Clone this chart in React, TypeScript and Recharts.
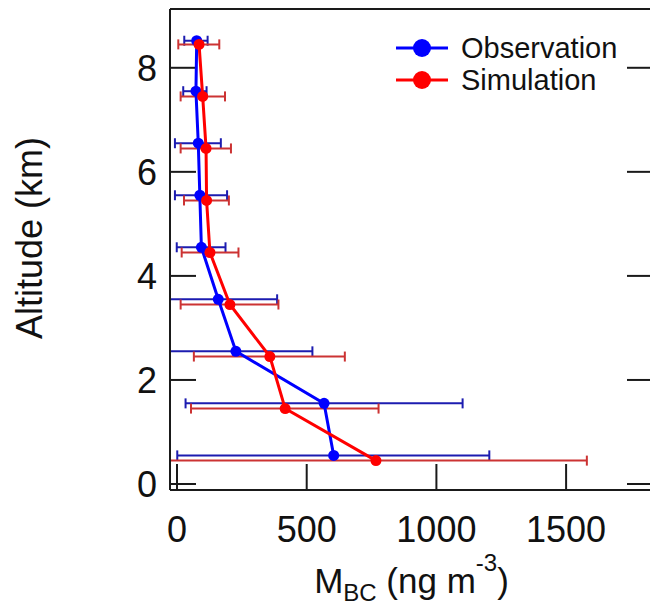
import { ScatterChart, Scatter, XAxis, YAxis, ErrorBar, Legend } from "recharts";

// Altitude bins (km) — simulation slightly offset below observation
const altitudeObs = [0.55, 1.55, 2.55, 3.55, 4.55, 5.55, 6.55, 7.55, 8.52];
const altitudeSim = [0.45, 1.45, 2.45, 3.45, 4.45, 5.45, 6.45, 7.45, 8.45];

// M_BC (ng m-3): mean and error bar ends (-27 = runs off the left axis)
const obsMean = [604, 567, 227, 159, 94, 88, 82, 73, 76];
const obsLow = [1, 33, -27, -27, -1, -8, -8, 24, 28];
const obsHigh = [1204, 1101, 522, 386, 187, 193, 169, 114, 118];

const simMean = [767, 417, 358, 204, 127, 114, 112, 99, 85];
const simLow = [-27, 54, 65, 14, 18, 27, 14, 14, 5];
const simHigh = [1580, 777, 647, 391, 237, 200, 208, 185, 163];

const xTicks = [0, 500, 1000, 1500];
const yTicks = [0, 2, 4, 6, 8];

const FONT = "'Liberation Sans', Arial, sans-serif";
const AXIS = "#1a1a1a";
const X_DOMAIN: [number, number] = [-27, 1835];
const Y_DOMAIN: [number, number] = [-0.115, 9.13];

function buildSeries(alt: number[], mean: number[], low: number[], high: number[]) {
  return alt.map((y, i) => ({
    x: mean[i],
    y,
    err: [mean[i] - low[i], high[i] - mean[i]],
  }));
}

const obsData = buildSeries(altitudeObs, obsMean, obsLow, obsHigh);
const simData = buildSeries(altitudeSim, simMean, simLow, simHigh);

function dot(color: string) {
  return (p: any) => <circle cx={p.cx} cy={p.cy} r={5.5} fill={color} />;
}

function XTitle(props: any) {
  const vb = props.viewBox;
  return (
    <text x={vb.x + vb.width / 2} y={vb.y + 103} textAnchor="middle" fontSize={35} fontFamily={FONT} fill="#111">
      M
      <tspan dy={8} fontSize={24}>BC</tspan>
      <tspan dy={-8}> (ng m</tspan>
      <tspan dy={-22} fontSize={24}>-3</tspan>
      <tspan dy={22}>)</tspan>
    </text>
  );
}

function YTitle(props: any) {
  const vb = props.viewBox;
  const x = vb.x - 28;
  const y = vb.y + 229;
  return (
    <text x={x} y={y} transform={`rotate(-90, ${x}, ${y})`} textAnchor="middle" fontSize={36} fontFamily={FONT} fill="#111">
      Altitude (km)
    </text>
  );
}

function LegendBox({ payload }: any) {
  return (
    <div style={{ fontFamily: FONT }}>
      {(payload ?? []).map((item: any) => (
        <div key={item.value} style={{ display: "flex", alignItems: "center", height: 32 }}>
          <svg width={52} height={22} style={{ display: "block" }}>
            <line x1={0} y1={11} x2={52} y2={11} stroke={item.color} strokeWidth={3} />
            <circle cx={26} cy={11} r={9} fill={item.color} />
          </svg>
          <span style={{ marginLeft: 13, fontSize: 29, color: "#111", lineHeight: "32px" }}>{item.value}</span>
        </div>
      ))}
    </div>
  );
}

const noLabel = () => "";

export default function App() {
  return (
    <div style={{ position: "absolute", left: 0, top: 0, width: 650, height: 608, overflow: "hidden", background: "#fff" }}>
      <ScatterChart width={654} height={608} margin={{ top: 0, right: 0, bottom: 58, left: 70 }}>
        <XAxis
          type="number"
          dataKey="x"
          domain={X_DOMAIN}
          allowDataOverflow
          ticks={xTicks}
          interval={0}
          height={60}
          tickSize={-26}
          tickMargin={52}
          axisLine={{ stroke: AXIS, strokeWidth: 2 }}
          tickLine={{ stroke: AXIS, strokeWidth: 2 }}
          tick={{ fontSize: 36, fill: "#111", fontFamily: FONT }}
          label={{ content: XTitle }}
        />
        <XAxis
          xAxisId="top"
          orientation="top"
          type="number"
          domain={X_DOMAIN}
          allowDataOverflow
          ticks={xTicks}
          interval={0}
          height={9}
          tickSize={-26}
          axisLine={{ stroke: AXIS, strokeWidth: 2 }}
          tickLine={{ stroke: AXIS, strokeWidth: 2 }}
          tick={{ fontSize: 1 }}
          tickFormatter={noLabel}
        />
        <YAxis
          type="number"
          dataKey="y"
          domain={Y_DOMAIN}
          allowDataOverflow
          ticks={yTicks}
          interval={0}
          width={100}
          tickSize={-26}
          tickMargin={39}
          axisLine={{ stroke: AXIS, strokeWidth: 2 }}
          tickLine={{ stroke: AXIS, strokeWidth: 2 }}
          tick={{ fontSize: 36, fill: "#111", fontFamily: FONT }}
          label={{ content: YTitle }}
        />
        <YAxis
          yAxisId="right"
          orientation="right"
          type="number"
          domain={Y_DOMAIN}
          allowDataOverflow
          ticks={yTicks}
          interval={0}
          width={1}
          tickSize={-26}
          axisLine={{ stroke: AXIS, strokeWidth: 2 }}
          tickLine={{ stroke: AXIS, strokeWidth: 2 }}
          tick={{ fontSize: 1 }}
          tickFormatter={noLabel}
        />
        <Legend
          layout="vertical"
          align="center"
          verticalAlign="middle"
          wrapperStyle={{ left: 396, top: 32, width: 240 }}
          content={LegendBox}
        />
        <Scatter
          name="Observation"
          data={obsData}
          fill="#0000ff"
          line={{ stroke: "#0000ff", strokeWidth: 3 }}
          lineType="joint"
          shape={dot("#0000ff")}
          isAnimationActive={false}
        >
          <ErrorBar dataKey="err" direction="x" width={5} stroke="#1c1cb0" strokeWidth={2} isAnimationActive={false} />
        </Scatter>
        <Scatter
          name="Simulation"
          data={simData}
          fill="#ff0000"
          line={{ stroke: "#ff0000", strokeWidth: 3 }}
          lineType="joint"
          shape={dot("#ff0000")}
          isAnimationActive={false}
        >
          <ErrorBar dataKey="err" direction="x" width={5} stroke="#cc3333" strokeWidth={2} isAnimationActive={false} />
        </Scatter>
      </ScatterChart>
    </div>
  );
}
